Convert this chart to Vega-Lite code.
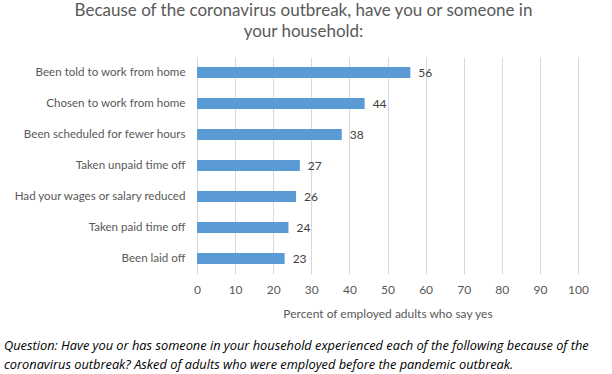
{
  "$schema": "https://vega.github.io/schema/vega-lite/v6.json",
  "padding": {"left": 4, "top": 2, "right": 4, "bottom": 4},
  "background": "white",
  "config": {"font": "Lato", "view": {"stroke": null}},
  "title": {
    "text": ["Question: Have you or has someone in your household experienced each of the following because of the", "coronavirus outbreak? Asked of adults who were employed before the pandemic outbreak."],
    "orient": "bottom",
    "anchor": "start",
    "font": "Open Sans",
    "fontStyle": "italic",
    "fontWeight": "normal",
    "fontSize": 12.8,
    "lineHeight": 19,
    "color": "#000000",
    "offset": 21
  },
  "data": {
    "values": [
      {"item": "Been told to work from home", "pct": 56},
      {"item": "Chosen to work from home", "pct": 44},
      {"item": "Been scheduled for fewer hours", "pct": 38},
      {"item": "Taken unpaid time off", "pct": 27},
      {"item": "Had your wages or salary reduced", "pct": 26},
      {"item": "Taken paid time off", "pct": 24},
      {"item": "Been laid off", "pct": 23}
    ]
  },
  "vconcat": [
    {
      "width": 381,
      "height": 217,
      "title": {
        "text": ["Because of the coronavirus outbreak, have you or someone in", "your household:"],
        "anchor": "middle",
        "dx": -84,
        "fontSize": 17,
        "lineHeight": 21,
        "fontWeight": "normal",
        "color": "#595959",
        "offset": 16
      },
      "encoding": {
        "y": {
          "field": "item",
          "type": "nominal",
          "sort": null,
          "scale": {"paddingInner": 0.65, "paddingOuter": 0.325},
          "axis": {
            "title": null,
            "domain": false,
            "ticks": false,
            "labelFontSize": 11.6,
            "labelColor": "#595959",
            "labelPadding": 12,
            "minExtent": 193,
            "labelLimit": 300
          }
        },
        "x": {
          "field": "pct",
          "type": "quantitative",
          "scale": {"domain": [0, 100]},
          "axis": {
            "title": "Percent of employed adults who say yes",
            "titleFontSize": 12,
            "titleFontWeight": "normal",
            "titleColor": "#595959",
            "titlePadding": 13,
            "values": [0, 10, 20, 30, 40, 50, 60, 70, 80, 90, 100],
            "labelFontSize": 12,
            "labelColor": "#595959",
            "labelPadding": 10,
            "labelFlush": false,
            "domain": false,
            "ticks": false,
            "grid": true,
            "gridColor": "#d9d9d9",
            "gridWidth": 1
          }
        }
      },
      "layer": [
        {"mark": {"type": "bar", "color": "#5B9BD5"}},
        {
          "mark": {"type": "text", "align": "left", "dx": 8, "fontSize": 12, "color": "#404040"},
          "encoding": {"text": {"field": "pct", "type": "quantitative"}}
        }
      ]
    }
  ]
}
